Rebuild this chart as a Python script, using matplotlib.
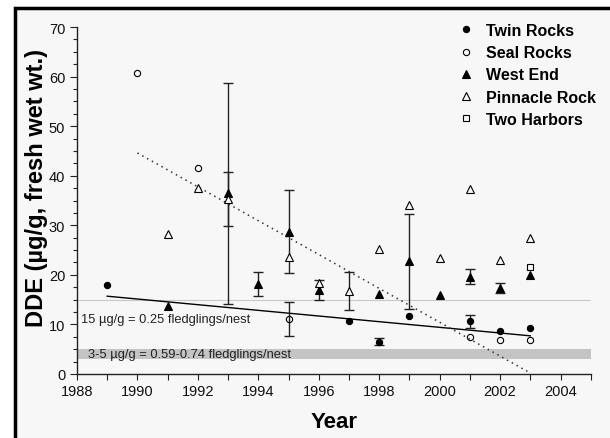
import matplotlib
matplotlib.use("Agg")
import matplotlib.pyplot as plt
from matplotlib.patches import Rectangle
from matplotlib.lines import Line2D
from matplotlib.ticker import MultipleLocator
import numpy as np

plt.rcParams['font.family'] = ['Liberation Sans', 'DejaVu Sans']

# Twin Rocks
twin_years = [1989, 1997, 1998, 1999, 2001, 2002, 2003]
twin_dde = [18.0, 10.6, 6.5, 11.8, 10.6, 8.6, 9.3]
twin_err = [0, 0, 0.7, 0, 1.3, 0, 0]

# Seal Rocks
seal_years = [1990, 1992, 1995, 2001, 2002, 2003]
seal_dde = [60.7, 41.6, 11.1, 7.5, 6.8, 6.8]
seal_err = [0, 0, 3.4, 0, 0, 0]

# West End
west_years = [1991, 1993, 1994, 1995, 1996, 1998, 1999, 2000, 2001, 2002, 2003]
west_dde = [13.8, 36.5, 18.2, 28.7, 17.0, 16.1, 22.7, 15.9, 19.6, 17.3, 20.0]
west_err = [0, 22.3, 2.4, 8.4, 2.0, 0, 9.5, 0, 1.5, 1.0, 0]

# Pinnacle Rock
pinn_years = [1991, 1992, 1993, 1995, 1996, 1997, 1998, 1999, 2000, 2001, 2002, 2003]
pinn_dde = [28.2, 37.5, 35.3, 23.7, 18.3, 16.8, 25.2, 34.1, 23.5, 37.3, 23.0, 27.4]
pinn_err = [0, 0, 5.5, 0, 0, 3.8, 0, 0, 0, 0, 0, 0]

# Two Harbors
two_years = [2003]
two_dde = [21.5]

# regression lines (end points)
fit_all_years = [1989, 2003]
fit_all_dde = [15.7, 7.7]
fit_seal_years = [1990, 2003]
fit_seal_dde = [44.6, 0.2]

# reproductive thresholds
thresh_line = 15
thresh_band = (3, 5)

fig = plt.figure(figsize=(6.1, 4.39), dpi=100, facecolor='white')
# framed panel background (only left and top edges visible)
fig.add_artist(Rectangle((0.0213, 0), 1.0, 0.983, transform=fig.transFigure,
                         facecolor='#f7f7f7', edgecolor='none', zorder=-2))
fig.add_artist(Line2D([0.0246, 0.0246, 1.0], [0.0, 0.979, 0.979],
                      transform=fig.transFigure, color='black', lw=2.5,
                      solid_joinstyle='miter', zorder=-1))
ax = fig.add_axes([0.1262, 0.1458, 0.8422, 0.7902])
ax.patch.set_visible(False)

ax.axhspan(thresh_band[0], thresh_band[1], color='#c4c4c4', lw=0, zorder=1)
ax.axhline(thresh_line, color='#c8c8c8', lw=0.8, zorder=1)

ax.plot(fit_all_years, fit_all_dde, color='black', lw=1.0, zorder=2)
ax.plot(fit_seal_years, fit_seal_dde, color='#333333', lw=1.1, ls=(0, (1, 2.6)), zorder=2)

ebkw = dict(ecolor='#222222', elinewidth=1.0, capsize=3.5, capthick=1.0, ls='none', zorder=3)

def draw_series(years, vals, errs, marker, face, size, label):
    years = np.array(years)
    vals = np.array(vals)
    errs = np.array(errs)
    has = errs > 0
    if has.any():
        ax.errorbar(years[has], vals[has], yerr=errs[has], fmt='none', **ebkw)
    ax.plot(years, vals, ls='none', marker=marker, ms=size, mfc=face,
            mec='black', mew=0.8, zorder=4, label=label)

draw_series(twin_years, twin_dde, twin_err, 'o', 'black', 4.5, 'Twin Rocks')
draw_series(seal_years, seal_dde, seal_err, 'o', 'none', 4.5, 'Seal Rocks')
draw_series(west_years, west_dde, west_err, '^', 'black', 5.5, 'West End')
draw_series(pinn_years, pinn_dde, pinn_err, '^', '#f7f7f7', 5.5, 'Pinnacle Rock')
draw_series(two_years, two_dde, [0], 's', 'none', 4.5, 'Two Harbors')

ax.text(1988.13, 11.1, '15 \u00b5g/g = 0.25 fledglings/nest', fontsize=9.3,
        color='#222222', va='center', ha='left', zorder=5)
ax.text(1988.36, 4.0, '3-5 \u00b5g/g = 0.59-0.74 fledglings/nest', fontsize=9.3,
        color='#222222', va='center', ha='left', zorder=5)

ax.set_xlim(1988, 2005)
ax.set_ylim(0, 70)
ax.xaxis.set_major_locator(MultipleLocator(2))
ax.xaxis.set_minor_locator(MultipleLocator(1))
ax.yaxis.set_major_locator(MultipleLocator(10))
ax.yaxis.set_minor_locator(MultipleLocator(2.5))
ax.tick_params(which='both', direction='out', color='#222222', width=0.8,
               labelsize=10.5, labelcolor='#111111')
ax.tick_params(axis='x', which='both', length=4)
ax.tick_params(axis='y', which='major', length=5)
ax.tick_params(axis='y', which='minor', length=3)
for side in ('top', 'right'):
    ax.spines[side].set_visible(False)
for side in ('left', 'bottom'):
    ax.spines[side].set_color('#222222')
    ax.spines[side].set_linewidth(1.0)

ax.set_xlabel('Year', fontsize=16, fontweight='bold', labelpad=9)
ax.set_ylabel('DDE (\u00b5g/g, fresh wet wt.)', fontsize=17, fontweight='bold')
# label sits a bit above the axis centre in the original
ax.yaxis.set_label_coords(-0.056, 0.539)

ax.legend(loc='upper left', bbox_to_anchor=(0.728, 0.978), bbox_transform=fig.transFigure,
          frameon=False, numpoints=1, handlelength=1.0, handletextpad=0.7,
          labelspacing=0.45, prop={'weight': 'bold', 'size': 11.5})

fig.savefig('out.png', dpi=100, facecolor=fig.get_facecolor())
